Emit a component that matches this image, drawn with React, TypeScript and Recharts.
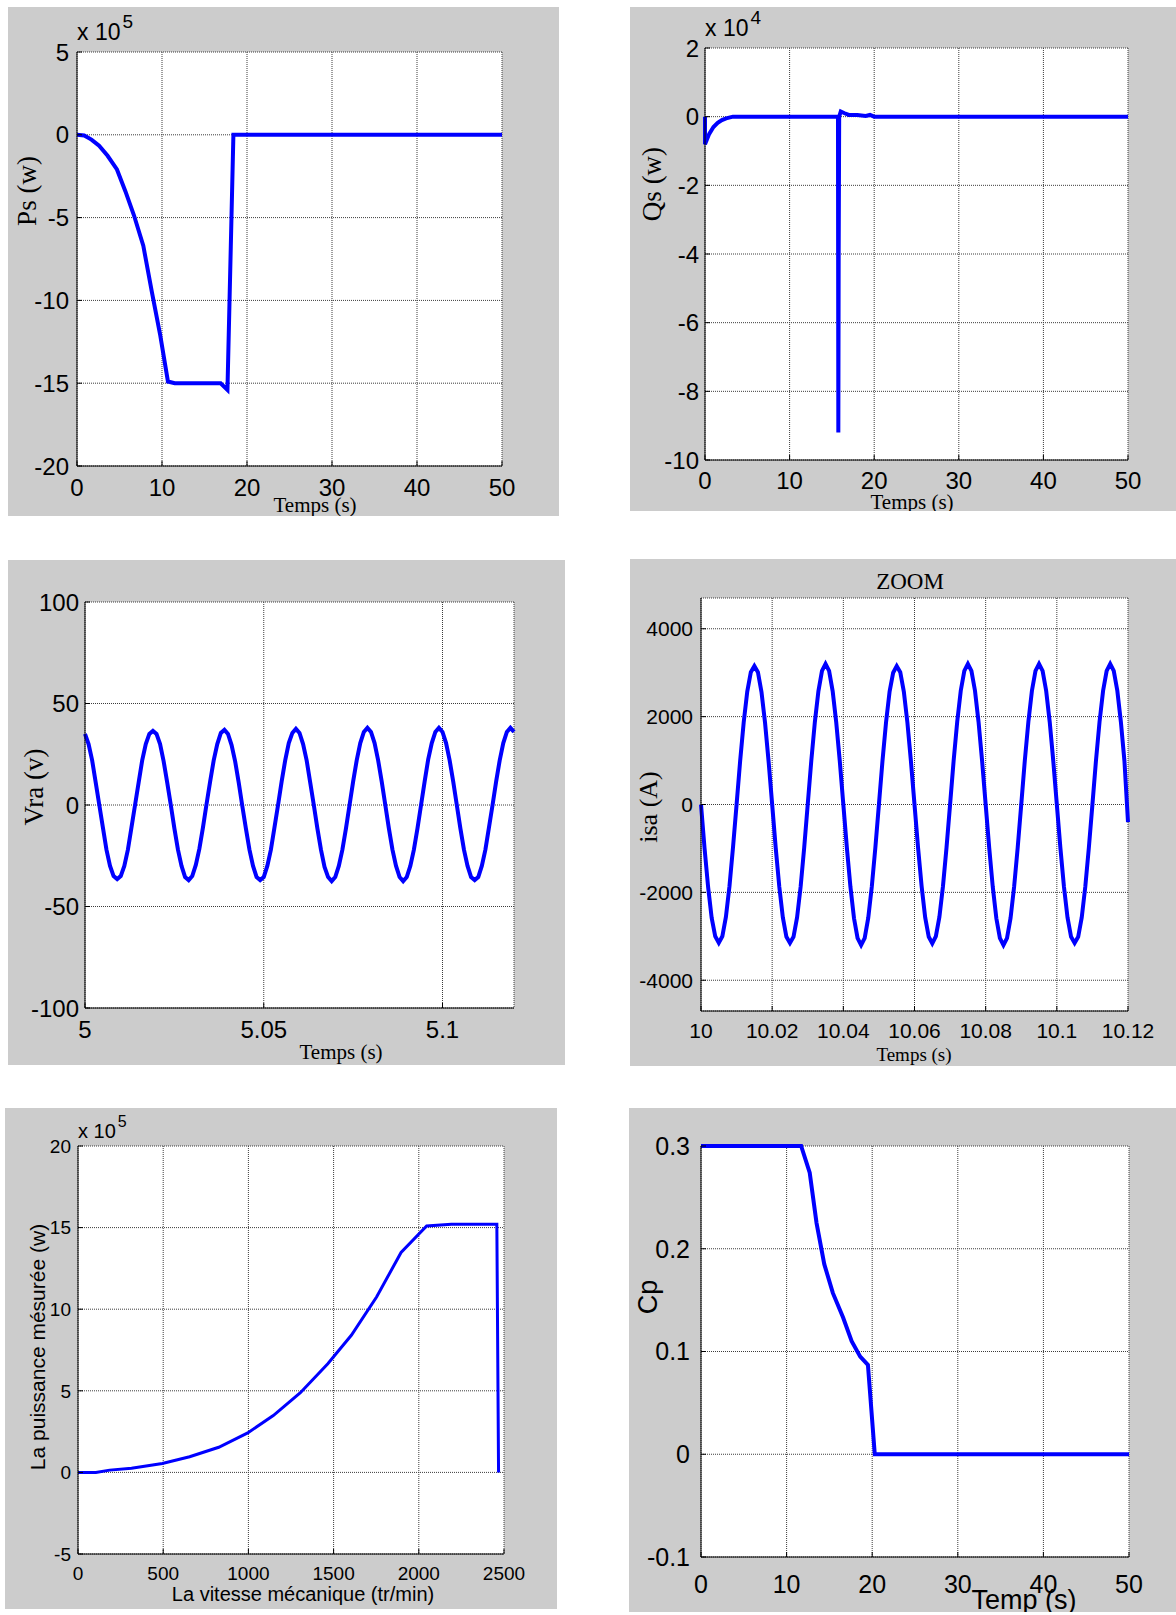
import { LineChart, Line, XAxis, YAxis, CartesianGrid } from 'recharts';

const SANS = '"Liberation Sans", Arial, Helvetica, sans-serif';
const SERIF = '"Liberation Serif", "Times New Roman", serif';
const BLUE = '#0000ff';

// Ps (x 10^5 W) vs time (s)
const psTime = [0, 0.85, 1.7, 2.6, 3.6, 4.7, 5.7, 6.7, 7.8, 8.8, 9.8, 10.7, 11.5, 16.9, 17.7, 18.4, 50];
const psValue = [0, -0.04, -0.29, -0.66, -1.27, -2.09, -3.42, -4.86, -6.7, -9.47, -12.13, -14.9, -15.0, -15.0, -15.4, 0, 0];

// Qs (x 10^4 W) vs time (s)
const qsTime = [0, 0, 0.5, 1, 1.5, 2, 2.5, 3.3, 15.72, 15.76, 15.8, 15.86, 16.05, 16.5, 17, 18, 19, 19.5, 20, 50];
const qsValue = [0, -0.8, -0.5, -0.3, -0.18, -0.1, -0.05, 0, 0, -9.2, -4.1, 0, 0.15, 0.1, 0.05, 0.05, 0.02, 0.05, 0, 0];

// Vra (V), one sample per ms from 5.000 s
const vraStart = 5;
const vraStep = 0.001;
const vraValue = [
  35, 30, 22, 11, 0, -11, -22, -30, -35, -36.5, -35, -30, -22, -11, 0, 11, 22, 30, 35, 36.5,
  35, 30, 21.5, 11, 0, -11.5, -22, -30, -35.5, -37, -35, -29.5, -21.5, -11, 0.5, 11.5, 22, 30, 35.5, 37,
  35, 29.5, 21.5, 11, -0.5, -11.5, -22, -30, -35.5, -37, -35.5, -30, -22, -11, 0, 11.5, 22, 30.5, 35.5, 37.5,
  35.5, 30, 22, 11, 0, -11.5, -22, -30.5, -35.5, -37.5, -35.5, -30, -22, -11.5, 0, 11.5, 22, 30.5, 36, 38,
  36, 30.5, 22, 11.5, 0, -11.5, -22, -30, -35.5, -37.5, -35.5, -30, -22, -11.5, 0, 11.5, 22.5, 30.5, 36, 38,
  36, 30.5, 22, 11.5, 0, -11.5, -22, -30, -35.5, -37, -35.5, -30, -22, -11, 0, 11.5, 22, 30.5, 36, 38,
  36,
];

// isa (A), one sample per ms from 10.000 s
const isaStart = 10;
const isaStep = 0.001;
const isaValue = [
  0, -1000, -1880, -2580, -3000, -3150, -3000, -2560, -1860, -970, 0, 990, 1870, 2570, 3010, 3150, 3010, 2560, 1860, 980,
  0, -990, -1870, -2570, -3010, -3150, -3010, -2570, -1870, -980, 10, 1000, 1880, 2580, 3040, 3200, 3040, 2580, 1870, 990,
  0, -990, -1880, -2590, -3040, -3200, -3040, -2580, -1870, -980, 0, 990, 1870, 2570, 3000, 3150, 3010, 2570, 1870, 980,
  0, -980, -1860, -2570, -3010, -3160, -3000, -2560, -1860, -980, 0, 1000, 1880, 2590, 3040, 3200, 3040, 2590, 1880, 990,
  0, -990, -1880, -2590, -3040, -3200, -3040, -2580, -1870, -980, 0, 1000, 1880, 2590, 3040, 3200, 3040, 2590, 1880, 990,
  0, -990, -1870, -2570, -3010, -3150, -3010, -2570, -1870, -980, 0, 1000, 1880, 2590, 3040, 3200, 3040, 2590, 1880, 990,
  -400,
];

// Measured power (x 10^5 W) vs mechanical speed (tr/min)
const speed = [0, 105, 186, 314, 495, 655, 826, 996, 1146, 1305, 1466, 1604, 1753, 1896, 2046, 2191, 2458, 2468];
const power = [0, 0, 0.14, 0.25, 0.55, 0.96, 1.54, 2.42, 3.48, 4.88, 6.66, 8.4, 10.76, 13.48, 15.1, 15.2, 15.2, 0];

// Cp vs time (s)
const cpTime = [0, 11.7, 12.7, 13.5, 14.4, 15.4, 16.6, 17.6, 18.6, 19.5, 20.3, 50];
const cpValue = [0.3, 0.3, 0.274, 0.225, 0.185, 0.157, 0.133, 0.11, 0.095, 0.087, 0, 0];

// tick labels
const timeTicks = [0, 10, 20, 30, 40, 50];
const psTicks = [-20, -15, -10, -5, 0, 5];
const qsTicks = [-10, -8, -6, -4, -2, 0, 2];
const vraTimeTicks = [5, 5.05, 5.1];
const vraTicks = [-100, -50, 0, 50, 100];
const isaTimeTicks = [10, 10.02, 10.04, 10.06, 10.08, 10.1, 10.12];
const isaTicks = [-4000, -2000, 0, 2000, 4000];
const speedTicks = [0, 500, 1000, 1500, 2000, 2500];
const powerTicks = [-5, 0, 5, 10, 15, 20];
const cpTicks = [-0.1, 0, 0.1, 0.2, 0.3];

const pairs = (xs: number[], ys: number[]) => xs.map((x, i) => ({ x, y: ys[i] }));
const sampled = (t0: number, dt: number, ys: number[]) =>
  ys.map((y, i) => ({ x: +(t0 + i * dt).toFixed(4), y }));

type Rect = { x0: number; y0: number; x1: number; y1: number };
type Caption = { text: string; x: number; y: number; size: number; font: string; vertical?: boolean };
type Exponent = { x: number; baseline: number; size: number; expSize: number; raise: number; power: string };

function Panel({
  frame, plot, data, xDomain, xTicks, yDomain, yTicks, fontSize, xGap, yGap, lineWidth, captions, exponent,
}: {
  frame: Rect; plot: Rect; data: { x: number; y: number }[];
  xDomain: [number, number]; xTicks: number[]; yDomain: [number, number]; yTicks: number[];
  fontSize: number; xGap: number; yGap: number; lineWidth: number;
  captions: Caption[]; exponent?: Exponent;
}) {
  const w = frame.x1 - frame.x0;
  const h = frame.y1 - frame.y0;
  const tickStyle = { fill: '#000', fontSize, fontFamily: SANS };
  const edge = { stroke: '#000', strokeWidth: 1 };
  return (
    <div style={{ position: 'absolute', left: frame.x0, top: frame.y0, width: w, height: h, background: '#cccccc', overflow: 'hidden' }}>
      <LineChart width={w} height={h} data={data}
        margin={{ top: plot.y0 - frame.y0, right: frame.x1 - plot.x1, bottom: 0, left: 0 }}>
        <CartesianGrid fill="#ffffff" stroke="#3c3c3c" strokeDasharray="1 1" />
        <XAxis dataKey="x" type="number" domain={xDomain} ticks={xTicks} interval={0}
          height={frame.y1 - plot.y1} axisLine={edge} tickLine={edge} tickSize={-5}
          tickMargin={xGap + 5} tick={tickStyle} />
        <XAxis xAxisId="top" orientation="top" type="number" domain={xDomain} ticks={xTicks} interval={0}
          height={0} axisLine={edge} tickLine={edge} tickSize={-5} tick={false} />
        <YAxis type="number" domain={yDomain} ticks={yTicks} interval={0}
          width={plot.x0 - frame.x0} axisLine={edge} tickLine={edge} tickSize={-5}
          tickMargin={yGap + 5} tick={tickStyle} />
        <YAxis yAxisId="right" orientation="right" type="number" domain={yDomain} ticks={yTicks} interval={0}
          width={0} axisLine={edge} tickLine={edge} tickSize={-5} tick={false} />
        <Line dataKey="y" type="linear" stroke={BLUE} strokeWidth={lineWidth} dot={false} isAnimationActive={false} />
      </LineChart>
      {captions.map((c) => (
        <div key={c.text} style={{
          position: 'absolute', left: c.x - frame.x0, top: c.y - frame.y0,
          transform: `translate(-50%, -50%)${c.vertical ? ' rotate(-90deg)' : ''}`,
          fontSize: c.size, fontFamily: c.font, lineHeight: 1, whiteSpace: 'nowrap', color: '#000',
        }}>{c.text}</div>
      ))}
      {exponent && (
        <div style={{
          position: 'absolute', left: exponent.x - frame.x0, top: exponent.baseline - frame.y0 - exponent.size * 0.85,
          fontSize: exponent.size, fontFamily: SANS, lineHeight: 1, whiteSpace: 'nowrap', color: '#000',
        }}>
          x 10<span style={{ fontSize: exponent.expSize, position: 'relative', top: -exponent.raise, marginLeft: 2 }}>{exponent.power}</span>
        </div>
      )}
    </div>
  );
}

export default function App() {
  return (
    <div style={{ position: 'absolute', left: 0, top: 0, width: 1176, height: 1615, background: '#fff' }}>
      <Panel
        frame={{ x0: 8, y0: 7, x1: 559, y1: 516 }} plot={{ x0: 77, y0: 52, x1: 502, y1: 466 }}
        data={pairs(psTime, psValue)} xDomain={[0, 50]} xTicks={timeTicks} yDomain={[-20, 5]} yTicks={psTicks}
        fontSize={24} xGap={13} yGap={8} lineWidth={4}
        exponent={{ x: 77, baseline: 41, size: 23, expSize: 19, raise: 12, power: '5' }}
        captions={[
          { text: 'Ps (w)', x: 27, y: 191, size: 27, font: SERIF, vertical: true },
          { text: 'Temps (s)', x: 315, y: 505, size: 21, font: SERIF },
        ]}
      />
      <Panel
        frame={{ x0: 630, y0: 7, x1: 1176, y1: 511 }} plot={{ x0: 705, y0: 48, x1: 1128, y1: 460 }}
        data={pairs(qsTime, qsValue)} xDomain={[0, 50]} xTicks={timeTicks} yDomain={[-10, 2]} yTicks={qsTicks}
        fontSize={24} xGap={12} yGap={6} lineWidth={4}
        exponent={{ x: 705, baseline: 37, size: 23, expSize: 19, raise: 12, power: '4' }}
        captions={[
          { text: 'Qs (w)', x: 652, y: 184, size: 27, font: SERIF, vertical: true },
          { text: 'Temps (s)', x: 912, y: 502, size: 21, font: SERIF },
        ]}
      />
      <Panel
        frame={{ x0: 8, y0: 560, x1: 565, y1: 1065 }} plot={{ x0: 85, y0: 602, x1: 514, y1: 1008 }}
        data={sampled(vraStart, vraStep, vraValue)} xDomain={[5, 5.12]} xTicks={vraTimeTicks} yDomain={[-100, 100]} yTicks={vraTicks}
        fontSize={24} xGap={13} yGap={6} lineWidth={4}
        captions={[
          { text: 'Vra (v)', x: 34, y: 787, size: 27, font: SERIF, vertical: true },
          { text: 'Temps (s)', x: 341, y: 1052, size: 21, font: SERIF },
        ]}
      />
      <Panel
        frame={{ x0: 630, y0: 559, x1: 1176, y1: 1066 }} plot={{ x0: 701, y0: 598, x1: 1128, y1: 1011 }}
        data={sampled(isaStart, isaStep, isaValue)} xDomain={[10, 10.12]} xTicks={isaTimeTicks} yDomain={[-4700, 4700]} yTicks={isaTicks}
        fontSize={21} xGap={12} yGap={8} lineWidth={4}
        captions={[
          { text: 'ZOOM', x: 910, y: 581, size: 23, font: SERIF },
          { text: 'isa (A)', x: 649, y: 807, size: 26, font: SERIF, vertical: true },
          { text: 'Temps (s)', x: 914, y: 1054, size: 19, font: SERIF },
        ]}
      />
      <Panel
        frame={{ x0: 5, y0: 1108, x1: 557, y1: 1609 }} plot={{ x0: 78, y0: 1146, x1: 504, y1: 1554 }}
        data={pairs(speed, power)} xDomain={[0, 2500]} xTicks={speedTicks} yDomain={[-5, 20]} yTicks={powerTicks}
        fontSize={19} xGap={13} yGap={7} lineWidth={3}
        exponent={{ x: 78, baseline: 1138, size: 20, expSize: 16, raise: 11, power: '5' }}
        captions={[
          { text: 'La puissance mésurée (w)', x: 37, y: 1347, size: 21, font: SANS, vertical: true },
          { text: 'La vitesse mécanique (tr/min)', x: 303, y: 1594, size: 20, font: SANS },
        ]}
      />
      <Panel
        frame={{ x0: 629, y0: 1108, x1: 1176, y1: 1612 }} plot={{ x0: 701, y0: 1146, x1: 1129, y1: 1557 }}
        data={pairs(cpTime, cpValue)} xDomain={[0, 50]} xTicks={timeTicks} yDomain={[-0.1, 0.3]} yTicks={cpTicks}
        fontSize={25} xGap={18} yGap={11} lineWidth={4}
        captions={[
          { text: 'Cp', x: 648, y: 1297, size: 27, font: SANS, vertical: true },
          { text: 'Temp (s)', x: 1024, y: 1600, size: 27, font: SANS },
        ]}
      />
    </div>
  );
}
